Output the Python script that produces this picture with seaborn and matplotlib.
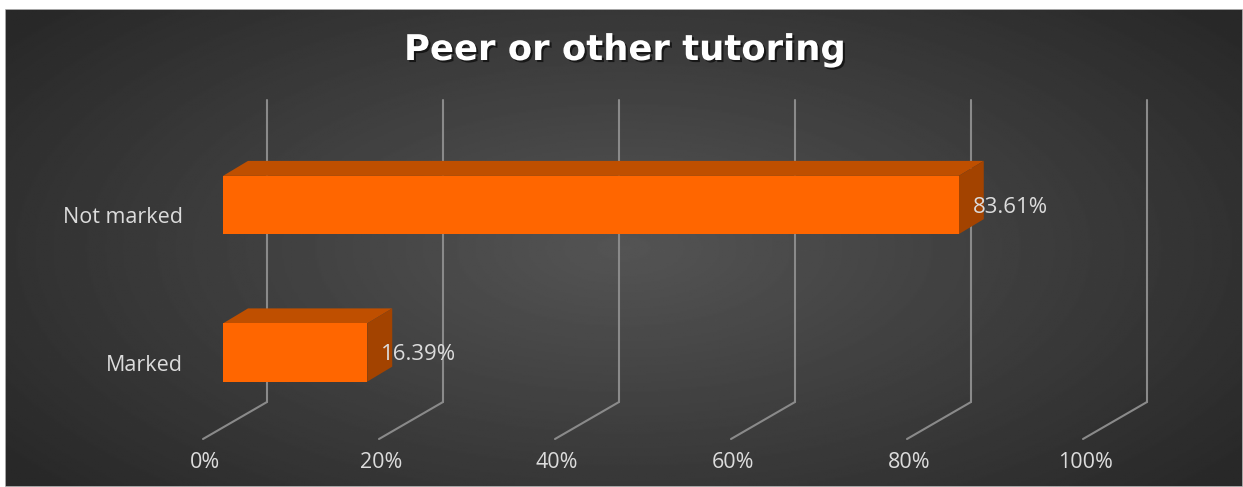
import numpy as np
import pandas as pd
import seaborn as sns
import matplotlib.pyplot as plt
from matplotlib.patches import Polygon
from matplotlib import transforms
import matplotlib.patheffects as pe

categories = ["Not marked", "Marked"]
percent = [83.61, 16.39]
tick_values = [0, 20, 40, 60, 80, 100]
tick_labels = ["0%", "20%", "40%", "60%", "80%", "100%"]
title = "Peer or other tutoring"

W, H, DPI = 1243, 487, 100
front_col = "#FF6600"
top_col = "#BF4F00"
side_col = "#A34300"
grid_col = "#8a8a8a"
text_col = "#dcdcdc"

sns.set_style("white")
plt.rcParams["font.family"] = ["Open Sans", "DejaVu Sans"]

fig = plt.figure(figsize=(W / DPI, H / DPI), dpi=DPI)
fig.patch.set_facecolor("white")

# background with radial shading, leaving the thin white margin of the screenshot
bg = fig.add_axes([5 / W, 0, 1 - 5 / W, (H - 9) / H])
yy, xx = np.mgrid[0:1:300j, 0:1:700j]
r = np.sqrt(((xx - 0.5) / 0.62) ** 2 + ((yy - 0.5) / 0.75) ** 2)
shade = np.clip(0.33 - 0.17 * r, 0.16, 0.34)
bg.imshow(shade, cmap="gray", vmin=0, vmax=1, aspect="auto", extent=[0, 1, 0, 1])
bg.set_axis_off()
bg.add_patch(plt.Rectangle((0, 0), 1, 1, transform=bg.transAxes, fill=False,
                           edgecolor="#bdbdbd", lw=1.2))

# main axes: x 0..100 maps onto front-plane pixels 223..1103
top_px, bot_px = 100, 440
ax = fig.add_axes([223 / W, (H - bot_px) / H, 880 / W, (bot_px - top_px) / H])
ax.patch.set_alpha(0)

df = pd.DataFrame({"category": categories, "percent": percent})
sns.barplot(data=df, x="percent", y="category", order=categories, color=front_col,
            saturation=1, width=0.395, orient="h", ax=ax, zorder=3, linewidth=0)
ax.set_xlim(0, 100)
ax.set_ylim(1.593, -0.712)
for s in ax.spines.values():
    s.set_visible(False)
ax.set_xlabel("")
ax.set_ylabel("")
ax.set_xticks([])
ax.tick_params(axis="y", length=0, pad=29, labelsize=15.5, labelcolor=text_col)
for lab in ax.get_yticklabels():
    lab.set_transform(lab.get_transform() + transforms.ScaledTranslation(0, -0.10, fig.dpi_scale_trans))

# back wall gridlines and floor lines (3D perspective offsets in pixels)
back_dx, floor_dx, floor_dy = 44, -20, 37
wall_bottom = (bot_px - 402) / (bot_px - top_px)
blend = transforms.blended_transform_factory(ax.transData, ax.transAxes)
back = blend + transforms.ScaledTranslation(back_dx / DPI, 0, fig.dpi_scale_trans)
for v in tick_values:
    ax.plot([v, v], [wall_bottom, 1], color=grid_col, lw=1.5, transform=back,
            clip_on=False, zorder=1)
    p0 = back.transform((v, wall_bottom))
    p1 = p0 + np.array([floor_dx - back_dx, -floor_dy])
    ax.plot([p0[0], p1[0]], [p0[1], p1[1]], color=grid_col, lw=1.5,
            transform=None, clip_on=False, zorder=1)

lab_tr = blend + transforms.ScaledTranslation(-18 / DPI, 0, fig.dpi_scale_trans)
for v, t in zip(tick_values, tick_labels):
    ax.text(v, -(463 - bot_px) / (bot_px - top_px), t, transform=lab_tr, ha="center",
            va="center", fontsize=15.5, color=text_col)

# 3D faces of each bar
depth = np.array([25, 15])
inv = ax.transData.inverted()
for bar, val in zip(ax.patches, percent):
    x0, y0 = bar.get_x(), bar.get_y()
    w, h = bar.get_width(), bar.get_height()
    tl = ax.transData.transform((x0, y0))
    tr = ax.transData.transform((x0 + w, y0))
    br = ax.transData.transform((x0 + w, y0 + h))
    top = inv.transform([tl, tr, tr + depth, tl + depth])
    side = inv.transform([tr, br, br + depth, tr + depth])
    ax.add_patch(Polygon(top, closed=True, facecolor=top_col, edgecolor="none", zorder=2))
    ax.add_patch(Polygon(side, closed=True, facecolor=side_col, edgecolor="none", zorder=2))
    yc = y0 + h / 2
    ax.annotate(f"{val:.2f}%", (x0 + w, yc), xytext=(14, -2), textcoords="offset pixels",
                ha="left", va="center", fontsize=16, color=text_col, zorder=5)

fig.text(625 / W, 1 - 50 / H, title, ha="center", va="center", fontsize=25.5,
         fontweight="bold", color="white", family=["DejaVu Sans"],
         path_effects=[pe.withSimplePatchShadow(offset=(1.5, -1.5), shadow_rgbFace="black", alpha=0.6)])

fig.savefig("out.png", dpi=DPI, facecolor=fig.get_facecolor())
